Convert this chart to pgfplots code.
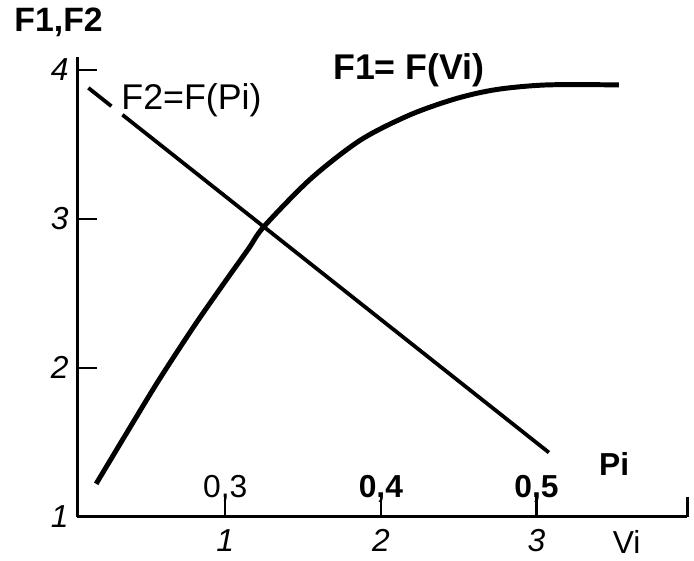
\documentclass[border=0pt]{standalone}
\usepackage{fontspec}
\setmainfont{Liberation Sans}
\usepackage{pgfplots}
\pgfplotsset{compat=1.18}

\begin{document}
\begin{tikzpicture}[font=\fontsize{16}{19}\selectfont]
    \begin{axis}[
        at={(0,0)}, anchor=south west,
        scale only axis,
        width=307pt, height=231.5pt,
        xmin=0.05, xmax=3.97,
        ymin=1, ymax=4.09,
        axis x line=bottom,
        axis y line=left,
        axis line style={-, line width=1.4pt, black},
        tick align=inside,
        major tick length=10pt,
        tick style={line width=1.2pt, black},
        tick label style={font=\fontsize{16}{19}\selectfont},
        xtick={1,2,3,3.97},
        xticklabels={\textit{1},\textit{2},\textit{3},{}},
        xticklabel style={yshift=-3pt},
        ytick={1,2,3,4},
        yticklabels={\textit{1},\textit{2},\textit{3},\textit{4}},
        yticklabel style={xshift=-1pt},
        extra x ticks={1,2,3},
        extra x tick labels={{0,3},{\bfseries 0,4},{\bfseries 0,5}},
        extra x tick style={
            major tick length=0pt,
            xticklabel style={anchor=base, yshift=12.5pt}},
        clip=false
        ]

    % F1 = F(Vi)
    \addplot[black, line width=2.5pt, smooth] coordinates {
        (0.17,1.22) (0.40,1.62) (0.575,1.92) (0.80,2.28) (1.00,2.58)
        (1.15,2.80) (1.25,2.95) (1.55,3.27) (1.87,3.53) (2.19,3.70)
        (2.49,3.81) (2.75,3.87) (3.07,3.90) (3.53,3.90)
    };

    % F2 = F(Pi), broken at the label
    \addplot[black, line width=1.9pt] coordinates {
        (0.12,3.88) (0.268,3.757)
    };
    \addplot[black, line width=1.9pt] coordinates {
        (0.339,3.699) (3.08,1.43)
    };

    \node[anchor=west] at (axis cs:-0.40,4.32) {\fontsize{17}{20}\selectfont\bfseries F1,F2};
    \node at (axis cs:2.18,4.0) {\fontsize{18}{21}\selectfont\bfseries F1= F(Vi)};
    \node[anchor=west, inner sep=0pt] at (axis cs:0.33,3.80) {\fontsize{18}{21}\selectfont F2=F(Pi)};
    \node at (axis cs:3.50,1.35) {\bfseries Pi};
    \node at (axis cs:3.58,0.83) {Vi};
    \end{axis}
    \path (-39pt,-22pt) rectangle (308pt,260pt);
\end{tikzpicture}
\end{document}
